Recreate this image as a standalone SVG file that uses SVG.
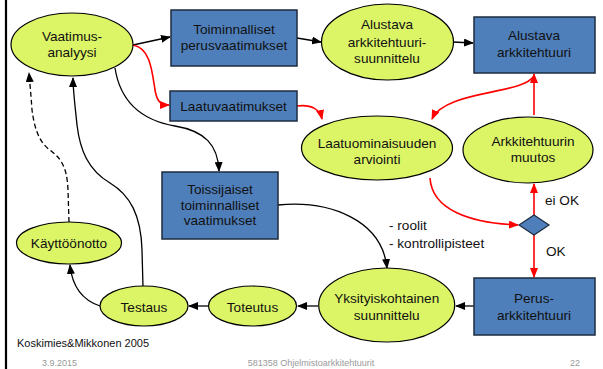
<svg xmlns="http://www.w3.org/2000/svg" width="603" height="369" viewBox="0 0 603 369">
<defs>
<marker id="ab" viewBox="0 0 10 8" refX="9" refY="4" markerWidth="10" markerHeight="8" markerUnits="userSpaceOnUse" orient="auto"><path d="M0,0 L10,4 L0,8 Z" fill="#000"/></marker>
<marker id="ar" viewBox="0 0 10 8" refX="9" refY="4" markerWidth="10" markerHeight="8" markerUnits="userSpaceOnUse" orient="auto"><path d="M0,0 L10,4 L0,8 Z" fill="#f00"/></marker>
<style>
text{font-family:"Liberation Sans",Arial,sans-serif;font-size:13.6px;fill:#111;text-anchor:middle}
.el{fill:#dcf566;stroke:#000;stroke-width:1.2}
.bx{fill:#4f7fba;stroke:#1c2b3f;stroke-width:1.5}
.bl{fill:none;stroke:#000;stroke-width:1.3;marker-end:url(#ab)}
.rd{fill:none;stroke:#f00;stroke-width:1.6;marker-end:url(#ar)}
.ft{font-size:9px;fill:#999}
.lt{text-anchor:start}
</style>
</defs>
<rect width="603" height="369" fill="#fff"/>
<line x1="6" y1="0" x2="6" y2="369" stroke="#000" stroke-width="2.2"/>

<g id="connectors">
<path class="bl" d="M133,45 L170,37"/>
<path class="bl" d="M297,38 L321,42"/>
<path class="bl" d="M453,42 L473,43"/>
<path class="bl" d="M115,68 C120,100 140,120 175,126 C205,131 218,145 219,171"/>
<path class="bl" d="M278,205 C330,200 382,220 387,268"/>
<path class="bl" d="M474,306 L456,306"/>
<path class="bl" d="M318,306 L298,306"/>
<path class="bl" d="M208,306 L189,306"/>
<path class="bl" d="M100,306 C82,300 72,285 70,265"/>
<path class="bl" d="M143,287 L142,250 C141,215 130,195 110,183 C88,170 80,150 77,125 C75,105 73,90 73,78"/>
<path class="bl" stroke-dasharray="5,3" d="M69,222 L68,190 C67,165 60,158 50,150 C38,142 34,125 32,110 C31,95 30,85 29,73"/>
<path class="rd" d="M133,45 C150,48 152,70 155,90 C157,101 160,105 169,105"/>
<path class="rd" d="M297,106 C312,104 320,110 322,119"/>
<path class="rd" d="M534,76 C522,95 445,90 432,119"/>
<path class="rd" d="M534,115 L534,74"/>
<path class="rd" d="M430,178 C432,210 470,223 518,225"/>
<path class="rd" d="M534,215 L534,184"/>
<path class="rd" d="M534,235 L534,277"/>
</g>

<g id="vaatimusanalyysi"><ellipse class="el" cx="72" cy="44.5" rx="61" ry="31.5"/><text x="72" y="41">Vaatimus-</text><text x="72" y="57">analyysi</text></g>
<g id="toiminnalliset"><rect class="bx" x="171" y="10" width="126" height="56"/><text x="234" y="34">Toiminnalliset</text><text x="234" y="50">perusvaatimukset</text></g>
<g id="laatuvaatimukset"><rect class="bx" x="170" y="91" width="127" height="30"/><text x="233.5" y="111">Laatuvaatimukset</text></g>
<g id="alustava-suunnittelu"><ellipse class="el" cx="387.5" cy="42" rx="66" ry="38"/><text x="387" y="29">Alustava</text><text x="387" y="46.5">arkkitehtuuri-</text><text x="387" y="63">suunnittelu</text></g>
<g id="alustava-arkkitehtuuri"><rect class="bx" x="474" y="17" width="121" height="56"/><text x="534" y="40">Alustava</text><text x="534" y="57">arkkitehtuuri</text></g>
<g id="arviointi"><ellipse class="el" cx="377" cy="148" rx="75.5" ry="32"/><text x="377" y="147.5">Laatuominaisuuden</text><text x="377" y="163.5">arviointi</text></g>
<g id="muutos"><ellipse class="el" cx="528" cy="150" rx="65" ry="33"/><text x="533" y="145.5">Arkkitehtuurin</text><text x="533" y="161.5">muutos</text></g>
<g id="toissijaiset"><rect class="bx" x="162" y="172" width="116" height="67"/><text x="220" y="194">Toissijaiset</text><text x="220" y="209.5">toiminnalliset</text><text x="220" y="225">vaatimukset</text></g>
<g id="paatos"><polygon points="534,215 549,225 534,235 519,225" fill="#4f7fba" stroke="#1c2b3f" stroke-width="1.2"/></g>
<g id="perus"><rect class="bx" x="474" y="278" width="121" height="57"/><text x="534" y="303">Perus-</text><text x="534" y="320">arkkitehtuuri</text></g>
<g id="yksityiskohtainen"><ellipse class="el" cx="386.7" cy="305" rx="68" ry="37"/><text x="386.7" y="303">Yksityiskohtainen</text><text x="386.7" y="320">suunnittelu</text></g>
<g id="toteutus"><ellipse class="el" cx="252.5" cy="306" rx="44" ry="20"/><text x="252.5" y="311.5">Toteutus</text></g>
<g id="testaus"><ellipse class="el" cx="144" cy="306" rx="44" ry="20"/><text x="144" y="311.5">Testaus</text></g>
<g id="kayttoonotto"><ellipse class="el" cx="69" cy="243" rx="52.5" ry="21"/><text x="69" y="247.5">Käyttöönotto</text></g>

<g id="labels">
<text class="lt" x="389" y="230">- roolit</text>
<text class="lt" x="389" y="248">- kontrollipisteet</text>
<text class="lt" x="545" y="205">ei OK</text>
<text class="lt" x="546" y="256">OK</text>
<text class="lt" x="17" y="347" style="font-size:11px">Koskimies&amp;Mikkonen 2005</text>
<text class="ft lt" x="42" y="366">3.9.2015</text>
<text class="ft" x="311" y="366">581358 Ohjelmistoarkkitehtuurit</text>
<text class="ft lt" x="570" y="366">22</text>
</g>
</svg>
